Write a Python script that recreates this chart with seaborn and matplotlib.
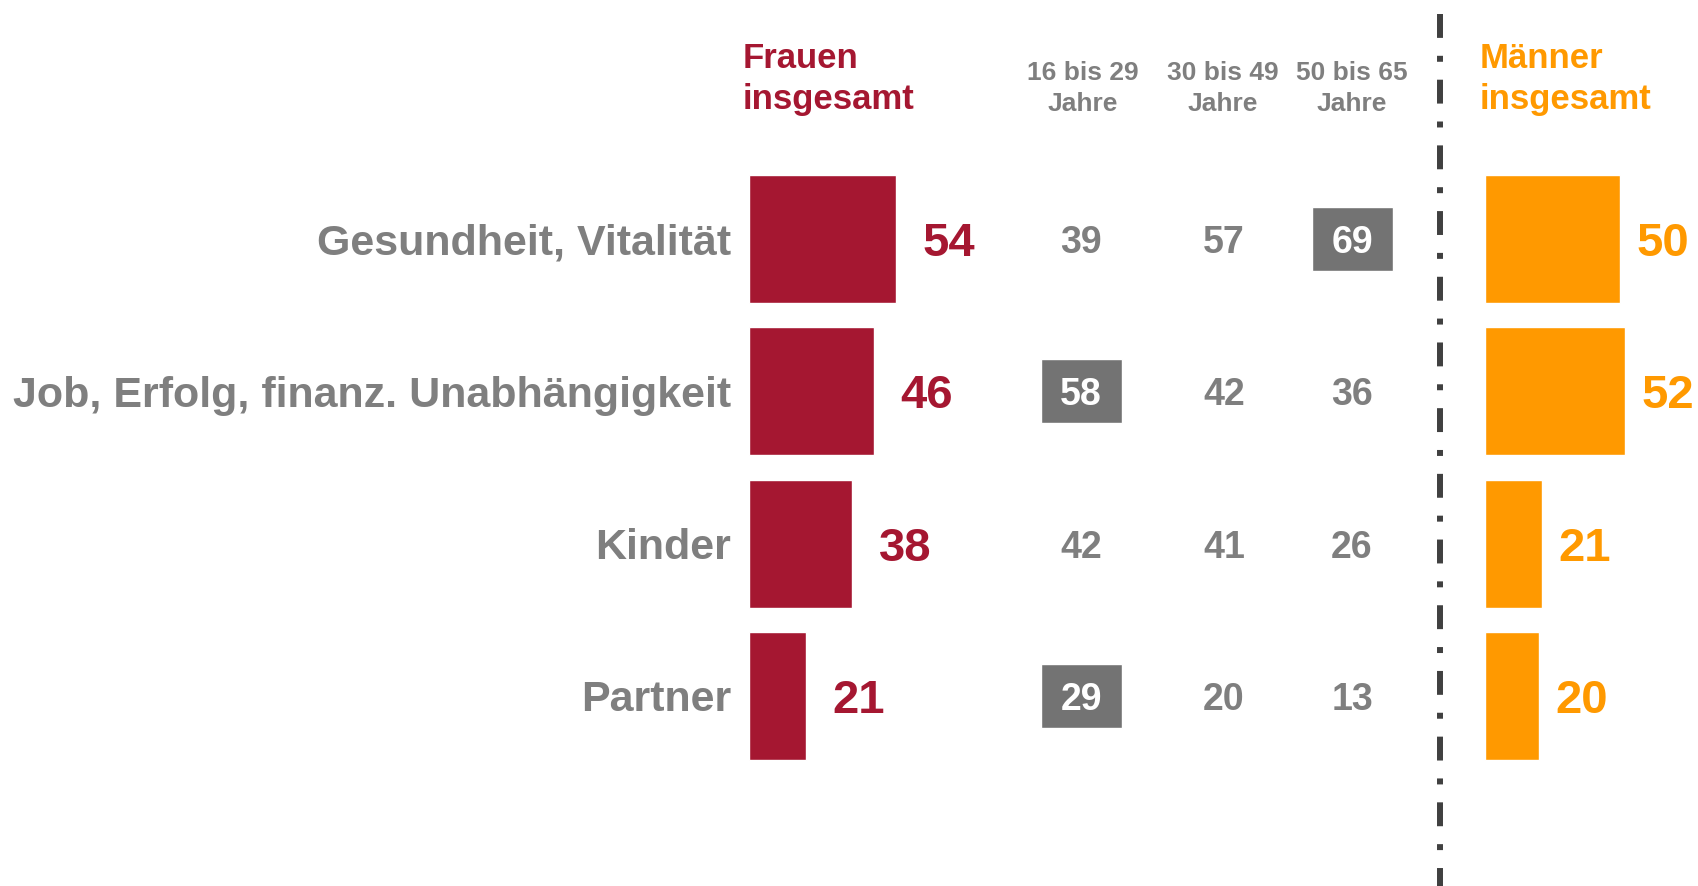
import numpy as np
import pandas as pd
import matplotlib
matplotlib.use('Agg')
import matplotlib.pyplot as plt
from matplotlib.lines import Line2D
import seaborn as sns

# Daten
kategorien = ['Gesundheit, Vitalität', 'Job, Erfolg, finanz. Unabhängigkeit', 'Kinder', 'Partner']
frauen = [54, 46, 38, 21]
maenner = [50, 52, 21, 20]
alter_16_29 = [39, 58, 42, 29]
alter_30_49 = [57, 42, 41, 20]
alter_50_65 = [69, 36, 26, 13]
altersgruppen = ['16 bis 29\nJahre', '30 bis 49\nJahre', '50 bis 65\nJahre']
# hervorgehobene Zellen (Zeile, Altersgruppe)
hervorgehoben = [(0, 2), (1, 0), (3, 0)]

ROT = '#A51731'
ORANGE = '#FF9900'
GRAU = '#7F7F7F'
BOX = '#737373'
LINIE = '#404040'

W, H = 1698, 886


def fx(px):
    return px / W


def fy(py):
    return 1 - py / H


sns.set_style('white')
plt.rcParams['font.family'] = ['Liberation Sans', 'DejaVu Sans']
plt.rcParams['font.weight'] = 'bold'

df = pd.DataFrame({'kategorie': kategorien, 'frauen': frauen, 'maenner': maenner})

fig = plt.figure(figsize=(W / 100, H / 100), dpi=100)

# Zeilenbereich: Mitte der ersten Zeile bei 239 px, Abstand 152 px
top, bottom = 163, 772
row_h = (bottom - top) / 4
bar_w = 0.84
dy = -3.6  # Zahlen leicht nach unten (pt)

ax_w = fig.add_axes([fx(749), fy(bottom), 272 / W, (bottom - top) / H])
ax_m = fig.add_axes([fx(1485), fy(bottom), 213 / W, (bottom - top) / H])
ax_a = fig.add_axes([fx(1000), fy(bottom), 420 / W, (bottom - top) / H])

sns.barplot(data=df, y='kategorie', x='frauen', orient='h', color=ROT,
            width=bar_w, saturation=1, ax=ax_w)
sns.barplot(data=df, y='kategorie', x='maenner', orient='h', color=ORANGE,
            width=bar_w, saturation=1, ax=ax_m)

ax_w.set_xlim(0, 100)
ax_m.set_xlim(0, 79)
ax_a.set_xlim(1000, 1420)
for ax in (ax_w, ax_m, ax_a):
    ax.set_ylim(3.5, -0.5)
    ax.set_xlabel('')
    ax.set_ylabel('')
    ax.set_xticks([])
    sns.despine(ax=ax, left=True, bottom=True)
    ax.patch.set_alpha(0)

ax_w.tick_params(axis='y', length=0, pad=13, labelsize=31, labelcolor=GRAU)
for lab in ax_w.get_yticklabels():
    lab.set_fontweight('bold')
ax_m.set_yticks([])
ax_a.set_yticks([])

# Werte neben den Balken
for ax, werte, farbe, pad in ((ax_w, frauen, ROT, 19), (ax_m, maenner, ORANGE, 12)):
    for i, v in enumerate(werte):
        ax.annotate(str(v), (v, i), xytext=(pad, dy), textcoords='offset points',
                    ha='left', va='center', fontsize=34, fontweight='bold',
                    color=farbe, annotation_clip=False)

# Altersgruppen-Spalten
spalten_x = [1081, 1224, 1352]
alter = [alter_16_29, alter_30_49, alter_50_65]
box_w, box_h = 81, 64 / row_h
for j, werte in enumerate(alter):
    for i, v in enumerate(werte):
        markiert = (i, j) in hervorgehoben
        if markiert:
            ax_a.barh(i, box_w, left=spalten_x[j] - box_w / 2, height=box_h,
                      color=BOX)
        ax_a.annotate(str(v), (spalten_x[j], i), xytext=(0, dy * 0.8),
                      textcoords='offset points', ha='center', va='center',
                      fontsize=27, fontweight='bold',
                      color='white' if markiert else GRAU)

# Kopfzeilen
fig.text(fx(743), fy(79), 'Frauen\ninsgesamt', ha='left', va='center',
         fontsize=25, fontweight='bold', color=ROT, linespacing=1.31)
fig.text(fx(1480), fy(79), 'Männer\ninsgesamt', ha='left', va='center',
         fontsize=25, fontweight='bold', color=ORANGE, linespacing=1.31)
for x, t in zip([1083, 1223, 1352], altersgruppen):
    fig.text(fx(x), fy(88.5), t, ha='center', va='center', fontsize=19,
             fontweight='bold', color=GRAU, linespacing=1.34)

# Trennlinie
fig.add_artist(Line2D([fx(1439.7), fx(1439.7)], [fy(14), fy(886)],
                      transform=fig.transFigure, color=LINIE, lw=4.3,
                      linestyle=(0, (4, 3, 1, 3)),
                      dash_capstyle='butt'))

fig.savefig('out.png', dpi=100)
